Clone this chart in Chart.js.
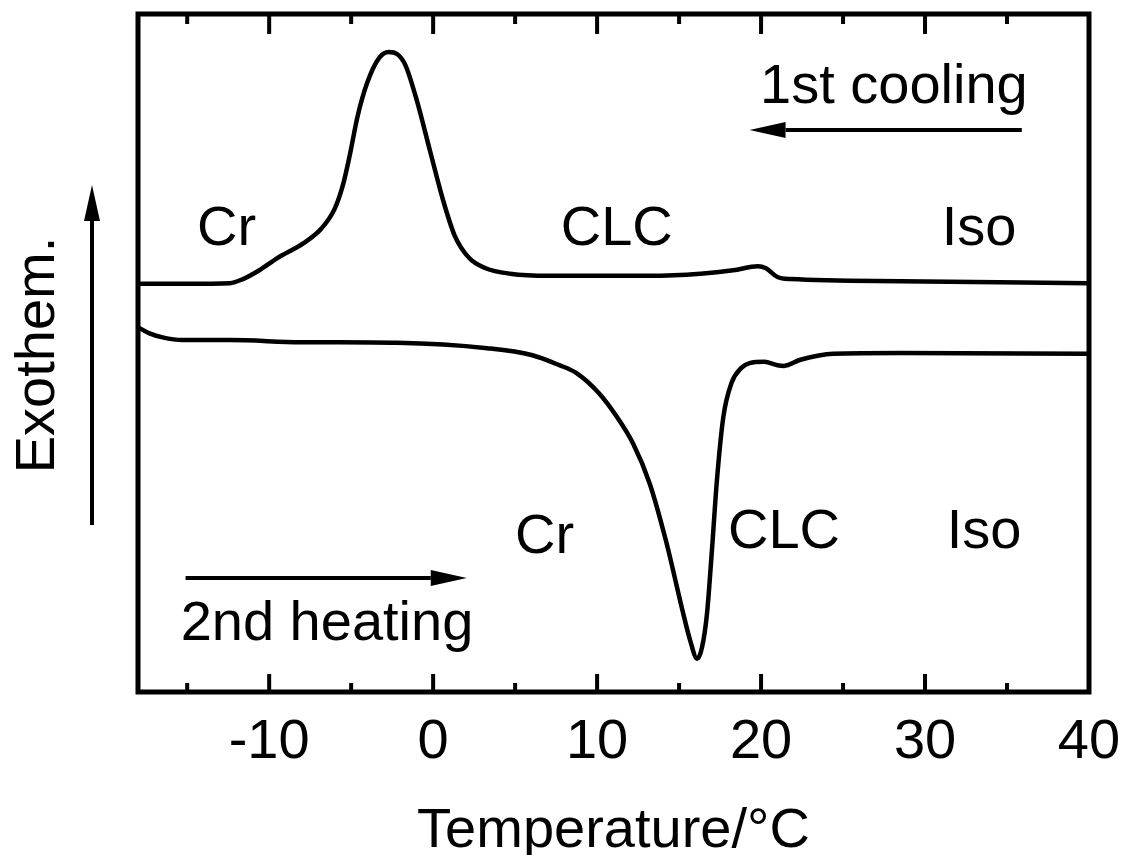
<!DOCTYPE html>
<html>
<head>
<meta charset="utf-8">
<title>DSC</title>
<script src="https://cdn.jsdelivr.net/npm/chart.js@4.4.1/dist/chart.umd.min.js"></script>
<style>
  html, body { margin: 0; padding: 0; background: #fff; }
  canvas { display: block; }
</style>
</head>
<body>
<canvas id="dscChart" width="1126" height="855"></canvas>
<script>
// 1st cooling run (upper trace), temperature in degC, heat flow in arb. units
var coolTemp = [-18, -15, -12.4, -11.6, -10.6, -9.5, -7.9, -6.8, -6.0, -5.5, -5.1, -4.6, -4.0, -3.3, -2.7, -2.2, -1.7, -1.0, -0.2, 0.6, 1.3, 2.2, 3.2, 4.7, 7.1, 13.2, 16.3, 18.3, 19.8, 20.3, 21.0, 21.8, 28.5, 40];
var coolFlow = [60.2, 60.2, 60.3, 60.9, 62.2, 64.0, 66.2, 68.4, 71.3, 74.8, 79.0, 85.0, 90.0, 93.5, 94.4, 94.1, 92.5, 87.3, 79.9, 72.6, 67.4, 64.0, 62.5, 61.7, 61.4, 61.4, 61.7, 62.2, 62.8, 62.5, 61.2, 60.9, 60.6, 60.3];

// 2nd heating run (lower trace)
var heatTemp = [-18, -17.3, -16.5, -15.3, -12.4, -8.1, -2.2, 3.3, 6.0, 7.7, 8.7, 10.1, 11.2, 12.2, 13.2, 14.2, 15.2, 15.7, 16.1, 16.4, 16.7, 17.0, 17.3, 17.7, 18.2, 18.8, 19.3, 20.2, 21.0, 21.4, 22.4, 24.4, 28.5, 40];
var heatFlow = [53.8, 52.9, 52.3, 51.9, 51.9, 51.6, 51.5, 50.7, 49.7, 48.2, 47.1, 44.1, 40.6, 36.6, 30.8, 22.3, 12.1, 7.4, 4.9, 6.6, 11.5, 20.8, 31.0, 40.6, 45.6, 47.8, 48.5, 48.7, 48.2, 48.1, 49.0, 49.9, 50.0, 49.9];

var tickLabels = [-10, 0, 10, 20, 30, 40];
var minorTicks = [-15, -5, 5, 15, 25, 35];

var FONT = '"Liberation Sans", Arial, Helvetica, sans-serif';

function toPoints(xs, ys) {
  var pts = [];
  for (var i = 0; i < xs.length; i++) {
    pts.push({x: xs[i], y: ys[i]});
  }
  return pts;
}

function drawArrow(ctx, x1, y1, x2, y2) {
  var ang = Math.atan2(y2 - y1, x2 - x1);
  var headLen = 36, headW = 8;
  var bx = x2 - headLen * Math.cos(ang), by = y2 - headLen * Math.sin(ang);
  ctx.beginPath();
  ctx.moveTo(x1, y1);
  ctx.lineTo(bx, by);
  ctx.stroke();
  ctx.beginPath();
  ctx.moveTo(x2, y2);
  ctx.lineTo(bx + headW * Math.sin(ang), by - headW * Math.cos(ang));
  ctx.lineTo(bx - headW * Math.sin(ang), by + headW * Math.cos(ang));
  ctx.closePath();
  ctx.fill();
}

// box round the plot with inward ticks top and bottom
var framePlugin = {
  id: 'frame',
  afterDraw: function(chart) {
    var ctx = chart.ctx, a = chart.chartArea, xs = chart.scales.x;
    ctx.save();
    ctx.strokeStyle = '#000';
    ctx.lineWidth = 5;
    ctx.strokeRect(a.left, a.top, a.right - a.left, a.bottom - a.top);
    ctx.lineWidth = 4;
    ctx.beginPath();
    tickLabels.forEach(function(v) {
      var px = xs.getPixelForValue(v);
      ctx.moveTo(px, a.bottom); ctx.lineTo(px, a.bottom - 18);
      ctx.moveTo(px, a.top); ctx.lineTo(px, a.top + 20);
    });
    minorTicks.forEach(function(v) {
      var px = xs.getPixelForValue(v);
      ctx.moveTo(px, a.bottom); ctx.lineTo(px, a.bottom - 9);
      ctx.moveTo(px, a.top); ctx.lineTo(px, a.top + 10);
    });
    ctx.stroke();
    ctx.restore();
  }
};

// phase labels and run direction arrows
var notesPlugin = {
  id: 'notes',
  afterDraw: function(chart) {
    var ctx = chart.ctx, a = chart.chartArea;
    var xs = chart.scales.x, ys = chart.scales.y;
    var texts = [
      {t: 'Cr', x: -12.6, y: 65.9, align: 'center'},
      {t: 'CLC', x: 11.2, y: 65.9, align: 'center'},
      {t: 'Iso', x: 33.3, y: 65.9, align: 'center'},
      {t: '1st cooling', x: 28.1, y: 86.9, align: 'center'},
      {t: 'Cr', x: 6.8, y: 20.5, align: 'center'},
      {t: 'CLC', x: 21.4, y: 21.2, align: 'center'},
      {t: 'Iso', x: 33.6, y: 21.2, align: 'center'},
      {t: '2nd heating', x: -15.4, y: 7.7, align: 'left'}
    ];
    ctx.save();
    ctx.fillStyle = '#000';
    ctx.strokeStyle = '#000';
    ctx.font = '56px ' + FONT;
    ctx.textBaseline = 'alphabetic';
    texts.forEach(function(n) {
      ctx.textAlign = n.align;
      ctx.fillText(n.t, xs.getPixelForValue(n.x), ys.getPixelForValue(n.y));
    });

    ctx.lineWidth = 4;
    // cooling runs right to left, heating left to right
    drawArrow(ctx, xs.getPixelForValue(35.9), ys.getPixelForValue(82.9),
                   xs.getPixelForValue(19.3), ys.getPixelForValue(82.9));
    drawArrow(ctx, xs.getPixelForValue(-15.1), ys.getPixelForValue(16.8),
                   xs.getPixelForValue(2.05), ys.getPixelForValue(16.8));

    // exothermic direction, left of the plot
    var ax = a.left - 46;
    drawArrow(ctx, ax, 525, ax, 185);
    ctx.translate(54, 355);
    ctx.rotate(-Math.PI / 2);
    ctx.textAlign = 'center';
    ctx.fillText('Exothem.', 0, 0);
    ctx.restore();
  }
};

var ctx = document.getElementById('dscChart').getContext('2d');
var dscChart = new Chart(ctx, {
  type: 'scatter',
  data: {
    datasets: [{
      label: '1st cooling',
      data: toPoints(coolTemp, coolFlow),
      showLine: true,
      borderColor: '#000',
      borderWidth: 4.5,
      pointRadius: 0,
      cubicInterpolationMode: 'monotone'
    }, {
      label: '2nd heating',
      data: toPoints(heatTemp, heatFlow),
      showLine: true,
      borderColor: '#000',
      borderWidth: 4.5,
      pointRadius: 0,
      cubicInterpolationMode: 'monotone'
    }]
  },
  options: {
    responsive: false,
    animation: false,
    devicePixelRatio: 1,
    layout: { padding: { left: 138, right: 37, top: 14, bottom: 0 } },
    plugins: {
      legend: { display: false },
      tooltip: { enabled: false }
    },
    scales: {
      x: {
        type: 'linear',
        min: -18,
        max: 40,
        afterBuildTicks: function(scale) {
          scale.ticks = tickLabels.map(function(v) { return {value: v}; });
        },
        afterFit: function(scale) {
          scale.height = 163;
          scale.paddingLeft = 0;
          scale.paddingRight = 0;
        },
        grid: { display: false },
        border: { display: false },
        ticks: {
          color: '#000',
          font: { family: FONT, size: 56 },
          padding: 9,
          maxRotation: 0
        },
        title: {
          display: true,
          text: 'Temperature/°C',
          color: '#000',
          font: { family: FONT, size: 56 },
          padding: { top: 0, bottom: -10 }
        }
      },
      y: {
        display: false,
        min: 0,
        max: 100
      }
    }
  },
  plugins: [framePlugin, notesPlugin]
});
</script>
</body>
</html>
